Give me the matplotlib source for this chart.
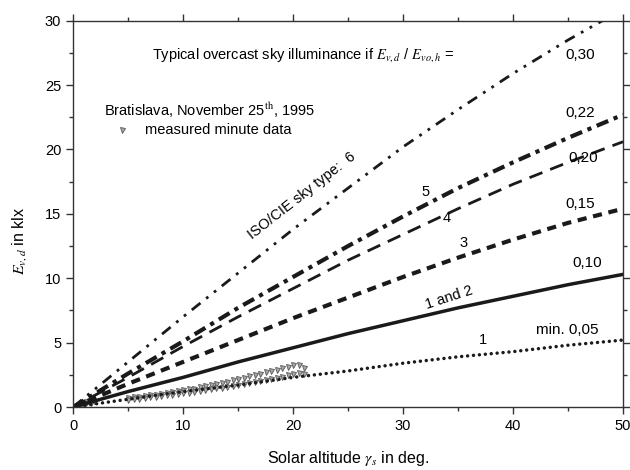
import numpy as np
import matplotlib.pyplot as plt

plt.rcParams['font.family'] = ['Liberation Sans', 'DejaVu Sans']
plt.rcParams['mathtext.fontset'] = 'stix'

# solar altitude grid (deg) and typical overcast diffuse illuminance (klx)
alt = [0, 5, 10, 15, 20, 25, 30, 35, 40, 45, 50]
ev_030 = [0, 3.5, 7.0, 10.4, 13.8, 17.0, 20.2, 23.1, 25.9, 28.5, 30.9]
ev_022 = [0, 2.6, 5.1, 7.7, 10.1, 12.5, 14.8, 17.0, 19.0, 20.9, 22.7]
ev_020 = [0, 2.3, 4.7, 7.0, 9.2, 11.4, 13.4, 15.4, 17.3, 19.0, 20.6]
ev_015 = [0, 1.8, 3.5, 5.2, 6.9, 8.5, 10.1, 11.6, 13.0, 14.3, 15.4]
ev_010 = [0, 1.2, 2.3, 3.5, 4.6, 5.7, 6.7, 7.7, 8.6, 9.5, 10.3]
ev_005 = [0, 0.6, 1.2, 1.7, 2.3, 2.8, 3.4, 3.9, 4.3, 4.8, 5.2]

# measured minute data, Bratislava 25.11.1995
meas_alt = [0.4, 0.7, 0.9, 1.1, 1.3, 1.6, 1.9,
            5.0, 5.5, 6.0, 6.5, 7.0, 7.5, 8.0, 8.5, 9.0, 9.5, 10.0, 10.5, 11.0,
            11.5, 12.0, 12.5, 13.0, 13.5, 14.0, 14.5, 15.0, 15.5, 16.0, 16.5,
            17.0, 17.5, 18.0, 18.5, 19.0, 19.5, 20.0, 20.5, 21.0,
            5.0, 5.5, 6.0, 6.5, 7.0, 7.5, 8.0, 8.5, 9.0, 9.5, 10.0, 10.5, 11.0,
            11.5, 12.0, 12.5, 13.0, 13.5, 14.0, 14.5, 15.0, 15.5, 16.0, 16.5,
            17.0, 17.5, 18.0, 18.5, 19.0, 19.5, 20.0, 20.5, 21.0]
meas_ev = [0.10, 0.25, 0.35, 0.20, 0.40, 0.30, 0.45,
           0.70, 0.74, 0.80, 0.84, 0.92, 0.95, 1.02, 1.10, 1.15, 1.22, 1.30, 1.38, 1.42,
           1.55, 1.60, 1.70, 1.78, 1.90, 1.95, 2.10, 2.18, 2.25, 2.40, 2.45,
           2.58, 2.70, 2.80, 2.85, 3.00, 3.10, 3.30, 3.25, 3.05,
           0.58, 0.62, 0.66, 0.70, 0.74, 0.80, 0.84, 0.90, 0.95, 1.00, 1.05, 1.12, 1.18,
           1.25, 1.30, 1.38, 1.45, 1.50, 1.58, 1.65, 1.72, 1.80, 1.88, 1.95,
           2.02, 2.10, 2.20, 2.28, 2.35, 2.45, 2.55, 2.65, 2.60]

ratio_labels = ['0,30', '0,22', '0,20', '0,15', '0,10', 'min. 0,05']

fig = plt.figure(figsize=(6.3, 4.7), dpi=100)
ax = fig.add_axes([0.116, 0.134, 0.873, 0.822])
k = '#1a1a1a'
mk = dict(linestyle='none', marker='v', markersize=3.6, markerfacecolor='#a8a8a8',
          markeredgecolor='#555555', markeredgewidth=0.6)

ax.plot(meas_alt, meas_ev, **mk)

ax.plot(alt, ev_030, color=k, lw=2, linestyle=(0, (4, 2.6, 1, 2.6, 1, 2.6)))
ax.plot(alt, ev_022, color=k, lw=3, linestyle=(0, (3, 1.4, 1, 1.4)))
ax.plot(alt, ev_020, color=k, lw=2, linestyle=(0, (5, 3)))
ax.plot(alt, ev_015, color=k, lw=3, linestyle=(0, (2.2, 1.6)))
ax.plot(alt, ev_010, color=k, lw=2.5)
ax.plot(alt, ev_005, color=k, lw=2.5, linestyle=(0, (0.01, 1.7)), dash_capstyle='round')

ax.set_xlim(0, 50)
ax.set_ylim(0, 30)
ax.set_xticks(np.arange(0, 51, 10))
ax.set_xticks(np.arange(5, 50, 10), minor=True)
ax.set_yticks(np.arange(0, 31, 5))
ax.set_yticks(np.arange(2.5, 30, 5), minor=True)
ax.tick_params(which='both', direction='out', top=True, right=True, labelsize=10.5, color='#333333')
ax.tick_params(which='major', length=5, width=1)
ax.tick_params(which='minor', length=3, width=1)
for s in ax.spines.values():
    s.set_linewidth(1)
    s.set_color('#333333')

ax.set_xlabel(r'Solar altitude $\gamma_s$ in deg.', fontsize=11.5, labelpad=12)
ax.set_ylabel(r'$E_{v,d}$ in klx', fontsize=11.5)
ax.yaxis.set_label_coords(-0.08, 0.43)

fs = 10.5
ax.text(7.2, 27.3, r'Typical overcast sky illuminance if $E_{v,d}$ / $E_{vo,h}$ =',
        fontsize=fs, va='center')
ax.text(2.8, 23.05, r'Bratislava, November 25$^{\rm th}$, 1995', fontsize=fs, va='center')
ax.plot([4.45], [21.5], **mk)
ax.text(6.5, 21.5, 'measured minute data', fontsize=fs, va='center')

lab_x = [46.1, 46.1, 46.4, 46.1, 46.7, 44.9]
lab_y = [27.3, 22.8, 19.3, 15.8, 11.2, 6.0]
for lx, ly, t in zip(lab_x, lab_y, ratio_labels):
    ax.text(lx, ly, t, fontsize=11, ha='center', va='center')

ax.text(20.8, 16.4, 'ISO/CIE sky type:  6', fontsize=fs, rotation=38,
        ha='center', va='center', rotation_mode='anchor')
ax.text(32.0, 16.7, '5', fontsize=fs, ha='center', va='center')
ax.text(34.0, 14.7, '4', fontsize=fs, ha='center', va='center')
ax.text(35.5, 12.7, '3', fontsize=fs, ha='center', va='center')
ax.text(34.2, 8.5, '1 and 2', fontsize=fs, rotation=18, ha='center', va='center',
        rotation_mode='anchor')
ax.text(37.3, 5.2, '1', fontsize=fs, ha='center', va='center')

fig.savefig('out.png', dpi=100)
